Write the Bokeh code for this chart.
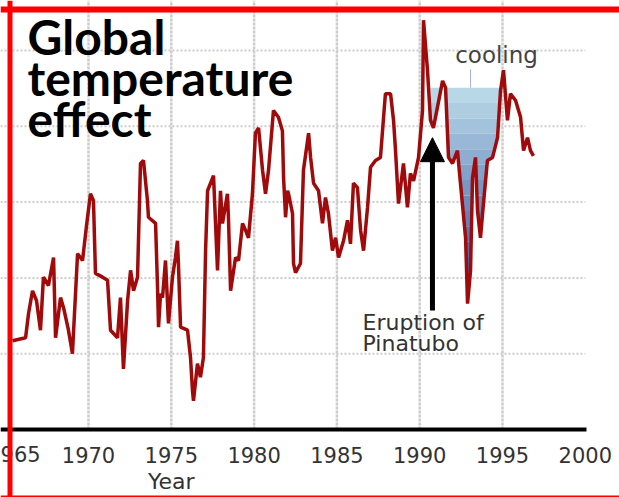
import numpy as np
from bokeh.plotting import figure
from bokeh.models import LinearAxis, FixedTicker, Span, Arrow, NormalHead, Range1d
from bokeh.core.properties import value
from bokeh.embed import file_html
from bokeh.resources import INLINE

# ---- data (temperature anomaly, degC) ----
years = [1965.41, 1966.20, 1966.38, 1966.62, 1966.86, 1967.10, 1967.28, 1967.58, 1967.89, 1968.01,
         1968.31, 1968.49, 1968.79, 1969.03, 1969.34, 1969.64, 1969.88, 1970.12, 1970.30, 1970.42,
         1970.85, 1971.15, 1971.33, 1971.75, 1971.93, 1972.11, 1972.36, 1972.54, 1972.72, 1972.96,
         1973.14, 1973.32, 1973.56, 1973.62, 1974.05, 1974.17, 1974.23, 1974.35, 1974.47, 1974.65,
         1974.83, 1975.07, 1975.25, 1975.37, 1975.43, 1975.56, 1975.98, 1976.16, 1976.28, 1976.34,
         1976.58, 1976.76, 1976.94, 1977.07, 1977.19, 1977.55, 1977.79, 1977.97, 1978.09, 1978.39,
         1978.45, 1978.58, 1978.88, 1979.06, 1979.30, 1979.48, 1979.66, 1979.90, 1980.08, 1980.27,
         1980.51, 1980.69, 1980.87, 1981.17, 1981.47, 1981.71, 1981.78, 1981.90, 1982.02, 1982.08,
         1982.32, 1982.38, 1982.50, 1982.80, 1982.98, 1983.29, 1983.41, 1983.59, 1983.89, 1984.13,
         1984.31, 1984.49, 1984.73, 1984.92, 1985.10, 1985.40, 1985.64, 1985.82, 1986.00, 1986.24,
         1986.43, 1986.61, 1986.85, 1987.03, 1987.33, 1987.63, 1987.93, 1988.24, 1988.42, 1988.54,
         1988.72, 1989.02, 1989.26, 1989.44, 1989.63, 1989.93, 1990.17, 1990.23, 1990.47, 1990.65,
         1990.83, 1991.07, 1991.38, 1991.56, 1991.74, 1991.98, 1992.28, 1992.46, 1992.77, 1992.89,
         1993.07, 1993.19, 1993.37, 1993.49, 1993.67, 1993.85, 1994.09, 1994.40, 1994.70, 1994.88,
         1995.06, 1995.30, 1995.48, 1995.79, 1996.09, 1996.27, 1996.51, 1996.69, 1996.87]
anomaly = [-0.183, -0.179, -0.147, -0.117, -0.130, -0.169, -0.099, -0.110, -0.073, -0.179,
           -0.126, -0.139, -0.169, -0.200, -0.068, -0.077, -0.031, 0.011, 0.002, -0.094,
           -0.099, -0.103, -0.169, -0.179, -0.126, -0.220, -0.130, -0.090, -0.117, -0.099,
           0.051, 0.055, 0.002, -0.020, -0.028, -0.113, -0.165, -0.121, -0.126, -0.077,
           -0.160, -0.099, -0.073, -0.051, -0.081, -0.165, -0.169, -0.205, -0.249, -0.262,
           -0.213, -0.231, -0.205, -0.064, 0.015, 0.035, -0.090, 0.015, -0.028, 0.011,
           -0.020, -0.117, -0.073, -0.077, -0.028, -0.037, -0.047, 0.011, 0.091, 0.098,
           0.042, 0.011, 0.042, 0.121, 0.112, 0.094, 0.032, -0.020, 0.015, 0.011,
           -0.015, -0.081, -0.093, -0.081, 0.042, 0.091, 0.059, 0.025, 0.015, -0.028,
           0.006, -0.015, -0.064, -0.047, -0.073, -0.051, -0.024, -0.055, 0.025, 0.019,
           -0.037, -0.064, -0.007, 0.046, 0.055, 0.059, 0.143, 0.143, 0.108, 0.068,
           -0.002, 0.051, -0.007, 0.038, 0.028, 0.059, 0.121, 0.240, 0.174, 0.108,
           0.098, 0.125, 0.160, 0.151, 0.059, 0.051, 0.068, 0.025, -0.047, -0.134,
           -0.090, 0.032, 0.059, -0.011, -0.047, -0.002, 0.055, 0.059, 0.085, 0.147,
           0.174, 0.108, 0.143, 0.134, 0.112, 0.068, 0.085, 0.068, 0.061]

tick_years = [1965, 1970, 1975, 1980, 1985, 1990, 1995, 2000]
grid_years = [1970, 1975, 1980, 1985, 1990, 1995]
grid_levels = [-0.2, -0.1, 0.0, 0.1, 0.2]
axis_level = -0.3
axis_end = 2000

cooling_level = 0.151
cooling_start = 1990.65
cooling_end = 1994.9

eruption_year = 1990.77
arrow_tip = 0.085
arrow_tail = -0.143

title_lines = ["Global", "temperature", "effect"]
eruption_lines = ["Eruption of", "Pinatubo"]
cooling_label = "cooling"
x_label = "Year"

# ---- figure ----
X0, X1 = 1964.686, 2002.065
Y0, Y1 = -0.3897, 0.2660
p = figure(width=619, height=497, x_range=Range1d(X0, X1), y_range=Range1d(Y0, Y1),
           x_axis_type=None, y_axis_type=None, output_backend="svg",
           toolbar_location=None, min_border=0)
p.outline_line_color = None
p.background_fill_color = "white"
p.border_fill_color = "white"

# grid
p.segment(x0=[X0] * len(grid_levels), y0=grid_levels, x1=[axis_end] * len(grid_levels),
          y1=grid_levels, line_color="#cccccc", line_width=2, line_dash="2 2")
p.segment(x0=grid_years, y0=[axis_level] * len(grid_years), x1=grid_years,
          y1=[Y1] * len(grid_years), line_color="#cccccc", line_width=2.5, line_dash="3 1")

# cooling fill (gradient bands)
yr = np.array(years)
an = np.array(anomaly)
fx = np.linspace(cooling_start, cooling_end, 600)
fc = np.interp(fx, yr, an)
nb = 14
levels = np.linspace(cooling_level, fc.min(), nb + 1)
c_top = np.array([0xbe, 0xdd, 0xea])
c_bot = np.array([0x2a, 0x48, 0x9a])
for k in range(nb):
    hi, lo = levels[k], levels[k + 1]
    t = (k + 0.5) / nb
    c = (c_top * (1 - t) + c_bot * t).astype(int)
    col = "#%02x%02x%02x" % tuple(c)
    y1 = np.clip(fc, lo, hi)
    p.varea(x=fx, y1=y1, y2=np.full_like(fx, hi), fill_color=col)

# connector from label
p.segment(x0=[1993.07], y0=[cooling_level], x1=[1993.07], y1=[0.175],
          line_color="#a8aee8", line_width=1)

# temperature line
p.line(years, anomaly, line_color="#a00a0a", line_width=3.5)

# x axis
xaxis = LinearAxis(fixed_location=axis_level, ticker=FixedTicker(ticks=tick_years[1:]),
                   bounds=(1964.5, axis_end + 0.1),
                   axis_line_width=4, axis_line_color="black",
                   major_tick_line_color=None, minor_tick_line_color=None,
                   major_label_text_font="DejaVu Sans",
                   major_label_text_font_size="21px",
                   major_label_text_color="#333333",
                   major_label_standoff=11)
p.add_layout(xaxis, "below")
# first tick label, partly outside the picture (as in the original)
p.text(x=[tick_years[0] + 0.5], y=[-0.3211], text=[str(tick_years[0])],
       text_font=value("DejaVu Sans"), text_font_size="21px", text_color="#333333",
       text_align="center", text_baseline="top")

p.text(x=[1975], y=[-0.368], text=[x_label], text_font=value("DejaVu Sans"),
       text_font_size="22px", text_color="#333333", text_align="center",
       text_baseline="alphabetic")

# arrow
p.add_layout(Arrow(end=NormalHead(size=24, fill_color="black", line_color="black"),
                   x_start=eruption_year, y_start=arrow_tail,
                   x_end=eruption_year, y_end=arrow_tip,
                   line_width=5, line_color="black"))

p.text(x=[1986.55, 1986.55], y=[-0.159, -0.186], text=eruption_lines,
       text_font=value("DejaVu Sans"), text_font_size="22px", text_color="#333333",
       text_align="left", text_baseline="alphabetic")

p.text(x=[1994.64], y=[0.1945], text=[cooling_label], text_font=value("DejaVu Sans"),
       text_font_size="23px", text_color="#444444", text_align="center",
       text_baseline="alphabetic")

# title
p.text(x=[1966.32] * 3, y=[0.2185, 0.1644, 0.1103], text=title_lines,
       text_font=value("Lato"), text_font_style="bold", text_font_size="48px",
       text_color="black", text_align="left", text_baseline="alphabetic")

# red frame
p.add_layout(Span(location=1965.26, dimension="height", line_color="red", line_width=5))
p.add_layout(Span(location=0.2541, dimension="width", line_color="red", line_width=6))
p.add_layout(Span(location=-0.3884, dimension="width", line_color="red", line_width=2))

open("out.html", "w").write(file_html(p, INLINE))
